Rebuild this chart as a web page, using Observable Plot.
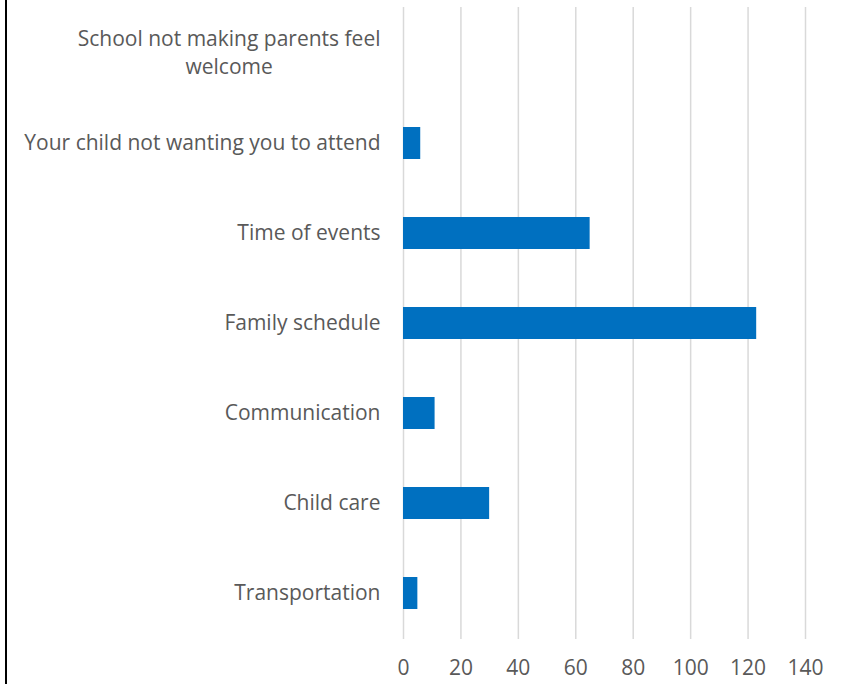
<!DOCTYPE html>
<html>
<head>
<meta charset="utf-8">
<script src="https://cdn.jsdelivr.net/npm/d3@7"></script>
<script src="https://cdn.jsdelivr.net/npm/@observablehq/plot@0.6"></script>
<style>
  html, body { margin: 0; padding: 0; background: #fff; }
  #wrap { position: relative; width: 842px; height: 684px; overflow: hidden; }
  #border { position: absolute; left: 5px; top: 0; width: 2px; height: 684px; background: #000; }
  #chart svg { display: block; }
</style>
</head>
<body>
<div id="wrap">
  <div id="chart"></div>
  <div id="border"></div>
</div>
<script>
const categories = [
  "School not making parents feel welcome",
  "Your child not wanting you to attend",
  "Time of events",
  "Family schedule",
  "Communication",
  "Child care",
  "Transportation"
];
const values = [0, 6, 65, 123, 11, 30, 5];
const xTicks = [0, 20, 40, 60, 80, 100, 120, 140];

const data = categories.map((c, i) => ({category: c, value: values[i]}));

const labelText = c => c === categories[0] ? "School not making parents feel\nwelcome" : c;

const chart = Plot.plot({
  width: 842,
  height: 684,
  marginTop: 7,
  marginBottom: 45,
  marginLeft: 403,
  marginRight: 37,
  style: {fontFamily: "'Open Sans', sans-serif", fontSize: "21px", color: "#595959", background: "#fff"},
  x: {domain: [0, 140], ticks: xTicks},
  y: {domain: categories, padding: 0},
  marks: [
    Plot.gridX(xTicks, {stroke: "#d9d9d9", strokeOpacity: 1, strokeWidth: 1.5}),
    Plot.barX(data, {x: "value", y: "category", fill: "#0070C0", insetTop: 29, insetBottom: 29}),
    Plot.axisX(xTicks, {tickSize: 0, tickPadding: 21, fontSize: 21, fill: "#595959", label: null}),
    Plot.axisY({tickSize: 0, tickPadding: 23, fontSize: 21, fill: "#595959", label: null, tickFormat: labelText, lineHeight: 1.33, dy: -2})
  ]
});
document.getElementById("chart").appendChild(chart);

// Center the lines of the wrapped label relative to each other (as in the original)
chart.querySelectorAll("text").forEach(t => {
  const spans = t.querySelectorAll("tspan");
  if (spans.length > 1) {
    let maxW = 0;
    spans.forEach(s => { maxW = Math.max(maxW, s.getComputedTextLength()); });
    t.setAttribute("text-anchor", "middle");
    const tr = t.getAttribute("transform") || "";
    t.setAttribute("transform", tr + ` translate(${-maxW / 2},0)`);
  }
});
</script>
</body>
</html>
